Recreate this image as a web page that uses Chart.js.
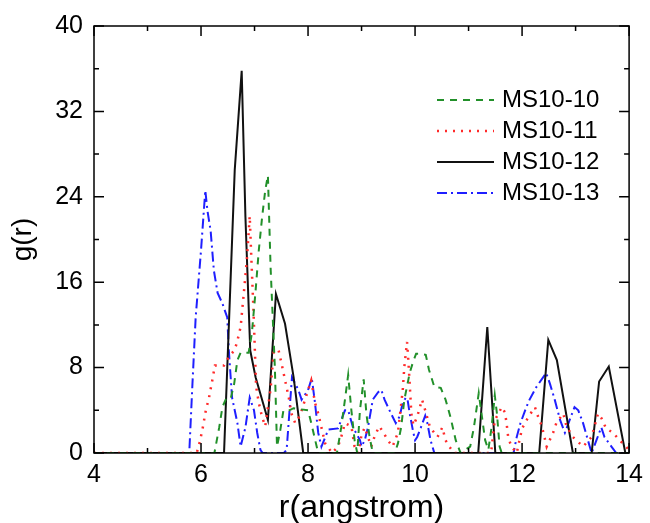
<!DOCTYPE html>
<html>
<head>
<meta charset="utf-8">
<script src="https://cdn.jsdelivr.net/npm/chart.js@4.4.1/dist/chart.umd.min.js"></script>
<style>
  body { margin: 0; background: #fff; }
  #wrap { width: 650px; height: 523px; position: relative; }
</style>
</head>
<body>
<div id="wrap"><canvas id="gr"></canvas></div>
<script>
// series names
const seriesNames = ['MS10-10', 'MS10-11', 'MS10-12', 'MS10-13'];

// MS10-10
const r10 = [4, 6.25, 6.34, 6.40, 6.46, 6.55, 6.62, 6.68, 6.74, 6.89, 6.95, 7.02, 7.08, 7.14, 7.20, 7.25, 7.30, 7.34, 7.38, 7.42, 7.48, 7.54, 7.65, 7.73, 7.85, 8.00, 8.06, 8.12, 8.19, 8.54, 8.62, 8.69, 8.75, 8.81, 8.87, 8.92, 8.97, 9.04, 9.09, 9.15, 9.21, 9.62, 9.68, 9.74, 9.80, 9.90, 9.96, 10.02, 10.10, 10.20, 10.26, 10.36, 10.48, 10.57, 10.66, 10.76, 10.85, 11.03, 11.10, 11.19, 11.25, 11.31, 11.37, 11.43, 11.49, 11.53, 11.58, 11.62, 14];
const g10 = [0, 0, 2.4, 4.3, 5.0, 5.0, 6.5, 8.7, 9.4, 9.4, 11.2, 15.2, 19.0, 22.0, 24.6, 26.0, 17.4, 12.7, 8.0, 0.6, 2.1, 4.0, 4.0, 4.2, 4.1, 4.0, 2.8, 1.5, 0, 0, 2.4, 5.0, 7.3, 4.0, 1.2, 0, 4.0, 6.9, 3.7, 1.5, 0, 0, 0.9, 2.4, 5.0, 7.5, 8.5, 9.3, 9.3, 9.2, 7.8, 6.2, 6.1, 5.0, 3.4, 1.2, 0, 0.6, 2.4, 5.6, 3.4, 1.2, 0.3, 2.4, 5.4, 3.7, 0.6, 0, 0];

// MS10-11
const r11 = [4, 5.92, 5.98, 6.03, 6.09, 6.15, 6.21, 6.26, 6.43, 6.52, 6.62, 6.67, 6.74, 6.80, 6.86, 6.91, 6.94, 6.98, 7.03, 7.08, 7.14, 7.20, 7.30, 7.36, 7.45, 7.50, 7.58, 7.64, 7.69, 7.76, 7.85, 7.97, 8.06, 8.13, 8.19, 8.32, 8.45, 8.56, 8.62, 8.69, 8.81, 8.87, 8.94, 9.00, 9.06, 9.18, 9.24, 9.33, 9.40, 9.49, 9.58, 9.68, 9.77, 9.80, 9.85, 9.87, 9.90, 9.93, 9.97, 10.04, 10.13, 10.19, 10.28, 10.42, 10.51, 10.57, 10.64, 10.73, 11.42, 11.49, 11.56, 11.62, 11.68, 11.71, 11.74, 11.80, 11.90, 12.00, 12.12, 12.24, 12.30, 12.37, 12.46, 12.58, 12.64, 12.77, 12.83, 12.95, 13.14, 13.30, 13.42, 13.48, 13.57, 13.70, 13.82, 13.94, 14];
const g11 = [0, 0, 1.1, 2.3, 4.0, 5.2, 6.8, 8.2, 8.2, 9.0, 9.6, 10.3, 11.8, 15.0, 18.3, 22.2, 18.3, 13.4, 6.2, 4.7, 3.4, 2.5, 6.0, 9.6, 9.6, 8.5, 6.6, 5.2, 3.7, 2.8, 3.5, 5.4, 6.8, 4.7, 3.7, 0.9, 0, 0.6, 1.5, 2.8, 2.5, 0.6, 0, 1.7, 2.4, 0.6, 1.5, 2.5, 2.0, 1.2, 0.6, 1.9, 5.9, 8.1, 10.4, 9.0, 6.5, 3.7, 2.6, 3.4, 5.0, 4.0, 2.4, 1.5, 2.4, 1.2, 0.6, 0, 0, 3.1, 3.7, 4.3, 3.8, 2.8, 1.5, 0.6, 0, 2.3, 3.4, 4.3, 3.4, 2.5, 0.6, 1.9, 2.8, 3.7, 2.5, 1.5, 0.6, 1.5, 3.7, 3.3, 2.3, 1.9, 1.2, 0.6, 0.3];

// MS10-12
const r12 = [4, 6.43, 6.63, 6.76, 6.83, 6.92, 7.02, 7.25, 7.40, 7.57, 7.73, 7.91, 11.18, 11.35, 11.50, 12.32, 12.49, 12.65, 12.95, 13.30, 13.44, 13.62, 13.93, 14];
const g12 = [0, 0, 26.5, 35.8, 22.1, 9.6, 7.1, 3.1, 14.9, 12.1, 7.1, 0, 0, 11.8, 0, 0, 10.6, 8.7, 0, 0, 6.7, 8.1, 0, 0];

// MS10-13
const r13 = [4, 5.78, 5.84, 5.90, 6.00, 6.08, 6.12, 6.18, 6.24, 6.31, 6.40, 6.49, 6.52, 6.58, 6.68, 6.74, 6.83, 6.91, 6.99, 7.05, 7.11, 7.15, 7.55, 7.60, 7.70, 7.82, 7.88, 8.00, 8.07, 8.13, 8.19, 8.25, 8.38, 8.56, 8.69, 8.75, 8.84, 8.97, 9.00, 9.06, 9.12, 9.21, 9.31, 9.37, 9.43, 9.55, 9.64, 9.71, 9.77, 9.83, 9.86, 9.90, 9.96, 10.00, 10.04, 10.11, 10.19, 10.23, 10.29, 10.36, 11.84, 11.90, 11.97, 12.08, 12.14, 12.27, 12.45, 12.52, 12.61, 12.71, 12.80, 12.89, 12.98, 13.05, 13.14, 13.23, 13.30, 13.39, 13.48, 13.54, 13.67, 13.76, 14];
const g13 = [0, 0, 6.5, 12.7, 19.0, 24.6, 22.7, 20.8, 17.1, 15.0, 14.0, 12.7, 9.6, 5.2, 2.8, 0.6, 2.4, 5.2, 4.0, 1.9, 0.3, 0, 0, 0.3, 7.1, 5.9, 5.0, 5.9, 7.0, 4.7, 1.9, 0.6, 2.2, 2.3, 4.0, 4.0, 2.4, 1.2, 0.6, 1.2, 2.4, 5.0, 5.7, 5.9, 5.0, 3.7, 2.8, 3.4, 4.7, 5.2, 5.0, 3.7, 2.1, 1.2, 1.5, 2.4, 3.5, 2.8, 1.2, 0, 0, 1.5, 2.8, 4.3, 5.0, 6.2, 7.5, 6.5, 5.0, 3.1, 1.9, 3.1, 4.3, 4.0, 2.8, 1.2, 0, 1.2, 2.4, 1.5, 0.6, 0, 0];

// axis ranges / ticks
const xRange = [4, 14];
const yRange = [0, 40];
const xStep = 2;
const yStep = 8;

const FONT = "'Liberation Sans', Arial, sans-serif";

function pts(rs, gs) {
  return rs.map((r, i) => ({ x: r, y: gs[i] }));
}

// frame, inward ticks and legend
const decor = {
  id: 'decor',
  afterDraw(chart) {
    const ctx = chart.ctx;
    const { left, right, top, bottom } = chart.chartArea;
    const xs = chart.scales.x, ys = chart.scales.y;
    ctx.save();
    ctx.strokeStyle = '#000';
    ctx.lineWidth = 1.5;
    ctx.setLineDash([]);
    ctx.strokeRect(left, top, right - left, bottom - top);
    ctx.beginPath();
    for (let v = xRange[0]; v <= xRange[1]; v += 1) {
      const px = xs.getPixelForValue(v);
      const len = (v % xStep === 0) ? 10 : 5;
      ctx.moveTo(px, bottom); ctx.lineTo(px, bottom - len);
      ctx.moveTo(px, top); ctx.lineTo(px, top + len);
    }
    for (let v = yRange[0]; v <= yRange[1]; v += yStep / 2) {
      const py = ys.getPixelForValue(v);
      const len = (v % yStep === 0) ? 10 : 5;
      ctx.moveTo(left, py); ctx.lineTo(left + len, py);
      ctx.moveTo(right, py); ctx.lineTo(right - len, py);
    }
    ctx.stroke();

    // legend
    ctx.font = '24px ' + FONT;
    ctx.textBaseline = 'middle';
    ctx.fillStyle = '#000';
    chart.data.datasets.forEach((ds, i) => {
      const y = 100 + i * 31;
      ctx.beginPath();
      ctx.strokeStyle = ds.borderColor;
      ctx.lineWidth = ds.borderWidth;
      ctx.setLineDash(ds.borderDash || []);
      ctx.moveTo(437, y);
      ctx.lineTo(494, y);
      ctx.stroke();
      ctx.setLineDash([]);
      ctx.fillText(ds.label, 502, y);
    });
    ctx.restore();
  }
};

const ctx = document.getElementById('gr').getContext('2d');
new Chart(ctx, {
  type: 'line',
  data: {
    datasets: [
      { label: seriesNames[0], data: pts(r10, g10), borderColor: '#22902a', borderWidth: 2, borderDash: [7, 6] },
      { label: seriesNames[1], data: pts(r11, g11), borderColor: '#ff2a2a', borderWidth: 2.5, borderDash: [2, 6] },
      { label: seriesNames[2], data: pts(r12, g12), borderColor: '#111111', borderWidth: 2, borderDash: [] },
      { label: seriesNames[3], data: pts(r13, g13), borderColor: '#1f1fff', borderWidth: 2, borderDash: [10, 4, 2, 4] }
    ]
  },
  options: {
    responsive: true,
    maintainAspectRatio: false,
    animation: false,
    parsing: false,
    elements: { point: { radius: 0 }, line: { tension: 0, fill: false } },
    layout: { padding: { left: 0, right: 17, top: 25, bottom: 0 } },
    plugins: { legend: { display: false }, tooltip: { enabled: false } },
    scales: {
      x: {
        type: 'linear',
        min: xRange[0],
        max: xRange[1],
        grid: { display: false, drawTicks: false },
        border: { display: false },
        ticks: { stepSize: xStep, color: '#000', font: { size: 25, family: FONT }, padding: 7, maxRotation: 0 },
        title: { display: true, text: 'r(angstrom)', color: '#000', font: { size: 32, family: FONT }, padding: { top: 0, bottom: -4 } },
        afterFit(scale) { scale.height = 70; }
      },
      y: {
        min: yRange[0],
        max: yRange[1],
        grid: { display: false, drawTicks: false },
        border: { display: false },
        ticks: { stepSize: yStep, color: '#000', font: { size: 25, family: FONT }, padding: 11 },
        title: { display: true, text: 'g(r)', color: '#000', font: { size: 28, family: FONT }, padding: { top: 6, bottom: 0 } },
        afterFit(scale) { scale.width = 94; }
      }
    }
  },
  plugins: [decor]
});
</script>
</body>
</html>
